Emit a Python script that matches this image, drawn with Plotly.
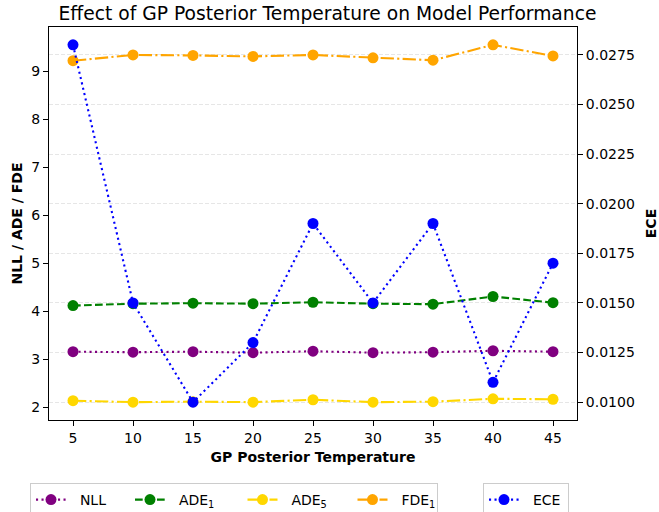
import plotly.graph_objects as go

temperature = [5, 10, 15, 20, 25, 30, 35, 40, 45]
nll = [3.16, 3.15, 3.16, 3.14, 3.17, 3.14, 3.15, 3.18, 3.16]
ade1 = [4.12, 4.16, 4.17, 4.16, 4.19, 4.16, 4.15, 4.31, 4.18]
ade5 = [2.14, 2.11, 2.12, 2.11, 2.16, 2.11, 2.12, 2.18, 2.17]
fde1 = [9.22, 9.34, 9.33, 9.31, 9.34, 9.28, 9.23, 9.55, 9.32]
ece = [0.028, 0.015, 0.010, 0.013, 0.019, 0.015, 0.019, 0.011, 0.017]

left_ticks = [2, 3, 4, 5, 6, 7, 8, 9]
right_ticks = [0.0100, 0.0125, 0.0150, 0.0175, 0.0200, 0.0225, 0.0250, 0.0275]
right_tick_labels = ["0.0100", "0.0125", "0.0150", "0.0175", "0.0200", "0.0225", "0.0250", "0.0275"]
x_ticks = temperature

FONT = "DejaVu Sans"
DOT = "2.1px,3.4px"
DASH = "7.7px,3.3px"
DASHDOT = "13.3px,3.3px,2.1px,3.3px"
NB = "\u00a0\u00a0"


def padded(vals, frac=0.05):
    lo, hi = min(vals), max(vals)
    m = (hi - lo) * frac
    return [lo - m, hi + m]


left_all = nll + ade1 + ade5 + fde1
yr = padded(left_all)
y2r = padded(ece)
xr = padded(temperature)

fig = go.Figure()
series = [
    ("NLL", nll, "#800080", DOT, 54),
    ("ADE<sub>1</sub>", ade1, "#008000", DASH, 67.5),
    ("ADE<sub>5</sub>", ade5, "#FFD700", DASHDOT, 65),
    ("FDE<sub>1</sub>", fde1, "#FFA500", DASHDOT, 39),
]
for name, vals, col, dash, lw in series:
    fig.add_trace(go.Scatter(
        x=temperature, y=vals, name=NB + name, mode="lines+markers",
        line=dict(color=col, width=2.1, dash=dash),
        marker=dict(color=col, size=11),
        legend="legend", yaxis="y", legendwidth=lw,
    ))
fig.add_trace(go.Scatter(
    x=temperature, y=ece, name=NB + "ECE", mode="lines+markers",
    line=dict(color="#0000FF", width=2.1, dash=DOT),
    marker=dict(color="#0000FF", size=11),
    legend="legend2", yaxis="y2", legendwidth=39,
))

axis_common = dict(
    showline=True, linecolor="black", linewidth=1.1,
    ticks="outside", ticklen=5, tickwidth=1.1, tickcolor="black",
    tickfont=dict(family=FONT, size=14, color="black"),
    zeroline=False,
)

LEG_TOP = 483

fig.update_layout(
    width=659, height=512,
    paper_bgcolor="white", plot_bgcolor="white",
    margin=dict(l=49, r=82, t=27, b=92, autoexpand=False),
    font=dict(family=FONT, size=14, color="black"),
    title=dict(text="Effect of GP Posterior Temperature on Model Performance",
               x=327.5 / 659, xref="container", xanchor="center",
               y=1 - 13 / 512, yref="container", yanchor="middle",
               font=dict(family=FONT, size=18.7, color="black")),
    xaxis=dict(range=xr, tickvals=x_ticks, showgrid=False, mirror=True,
               title=dict(text="<b>GP Posterior Temperature</b>", standoff=7,
                          font=dict(family=FONT, size=14, color="black")),
               **axis_common),
    yaxis=dict(range=yr, tickvals=left_ticks, showgrid=False,
               title=dict(text="<b>NLL / ADE / FDE</b>", standoff=5,
                          font=dict(family=FONT, size=14, color="black")),
               **axis_common),
    yaxis2=dict(range=y2r, tickvals=right_ticks, ticktext=right_tick_labels,
                overlaying="y", side="right", showgrid=True,
                gridcolor="#e6e6e6", griddash="4px,2px", gridwidth=1,
                title=dict(text="<b>ECE</b>", standoff=16,
                           font=dict(family=FONT, size=14, color="black")),
                **axis_common),
    legend=dict(orientation="h", x=(30 - 49) / 528, xanchor="left",
                y=-(LEG_TOP - 420) / 393, yanchor="top",
                bordercolor="#cccccc", borderwidth=1, bgcolor="white",
                font=dict(family=FONT, size=14, color="black")),
    legend2=dict(orientation="h", x=(483 - 49) / 528, xanchor="left",
                 y=-(LEG_TOP - 420) / 393, yanchor="top",
                 bordercolor="#cccccc", borderwidth=1, bgcolor="white",
                 font=dict(family=FONT, size=14, color="black")),
    showlegend=True,
)

fig.write_html("out.html", config={"displayModeBar": False},
               post_script="document.body.style.margin='0';document.body.style.overflow='hidden';")
